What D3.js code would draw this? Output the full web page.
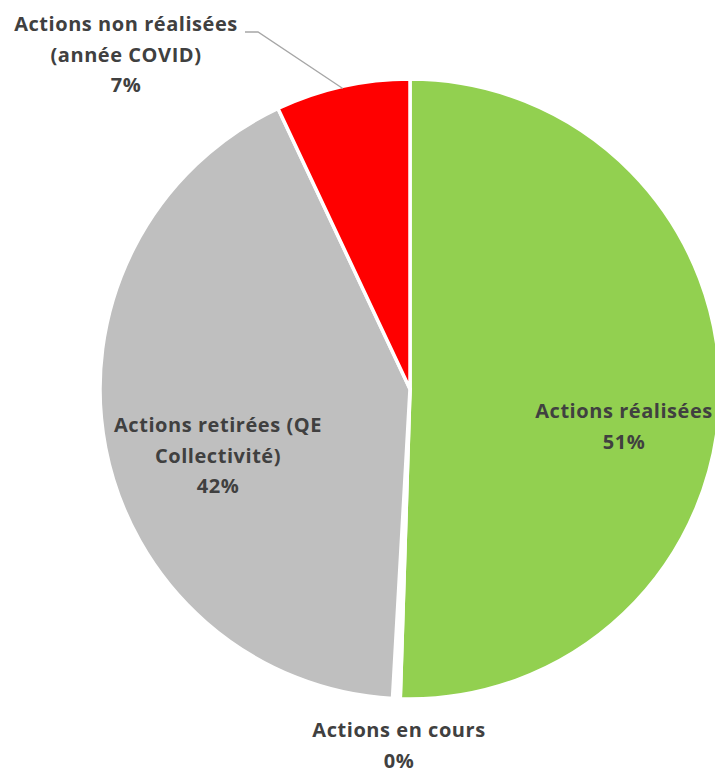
<!DOCTYPE html>
<html><head><meta charset="utf-8">
<script src="https://cdn.jsdelivr.net/npm/d3@7"></script>
<style>body{margin:0;background:#fff}svg{display:block}</style>
</head><body>
<svg id="c" width="715" height="773"></svg>
<script>
const categories = ["Actions réalisées", "Actions en cours", "Actions retirées (QE Collectivité)", "Actions non réalisées (année COVID)"];
const values = [50.5, 0.4, 42.1, 7.0];
const labelLines = [["Actions réalisées"], ["Actions en cours"], ["Actions retirées (QE", "Collectivité)"], ["Actions non réalisées", "(année COVID)"]];
const colors = ["#92d050", "#ffffff", "#bfbfbf", "#ff0000"];

const svg = d3.select("#c");
const cx = 410, cy = 389, r = 310;
const data = categories.map((c, i) => ({c, v: values[i], i}));
const pie = d3.pie().value(d => d.v).sort(null);
const arcs = pie(data);
const arc = d3.arc().innerRadius(0).outerRadius(r);
const g = svg.append("g").attr("transform", `translate(${cx},${cy})`);
g.selectAll("path").data(arcs).join("path")
  .attr("d", arc)
  .attr("fill", d => colors[d.data.i])
  .attr("stroke", "#fff").attr("stroke-width", 3.5).attr("stroke-linejoin", "round");

const total = d3.sum(values);
const pct = v => Math.round(v / total * 100) + "%";
// label anchors (first baseline), relative to pie centre
const anchors = [[214, 29], [-11, 348], [-192, 43], [-284, -358]];
const lh = 30.5;
arcs.forEach((a, k) => {
  const i = a.data.i;
  const [ax, ay] = anchors[i];
  const t = g.append("text")
    .attr("text-anchor", "middle")
    .attr("font-family", "'Open Sans', Lato, sans-serif")
    .attr("font-weight", "bold")
    .attr("font-size", 20)
    .attr("letter-spacing", 0.55)
    .attr("fill", "#404040");
  const lines = labelLines[i].concat([pct(values[i])]);
  lines.forEach((ln, j) => {
    t.append("tspan").attr("x", ax).attr("y", ay + j * lh).text(ln);
  });
});

// leader line for red slice
const red = arcs[3];
const ang = (red.startAngle + red.endAngle) / 2;
const px = Math.sin(ang) * (r - 2), py = -Math.cos(ang) * (r - 2);
g.append("polyline")
  .attr("points", [[-165, -357], [-152, -357], [px, py]].map(p => p.join(",")).join(" "))
  .attr("fill", "none").attr("stroke", "#a6a6a6").attr("stroke-width", 1.3);
</script>
</body></html>
